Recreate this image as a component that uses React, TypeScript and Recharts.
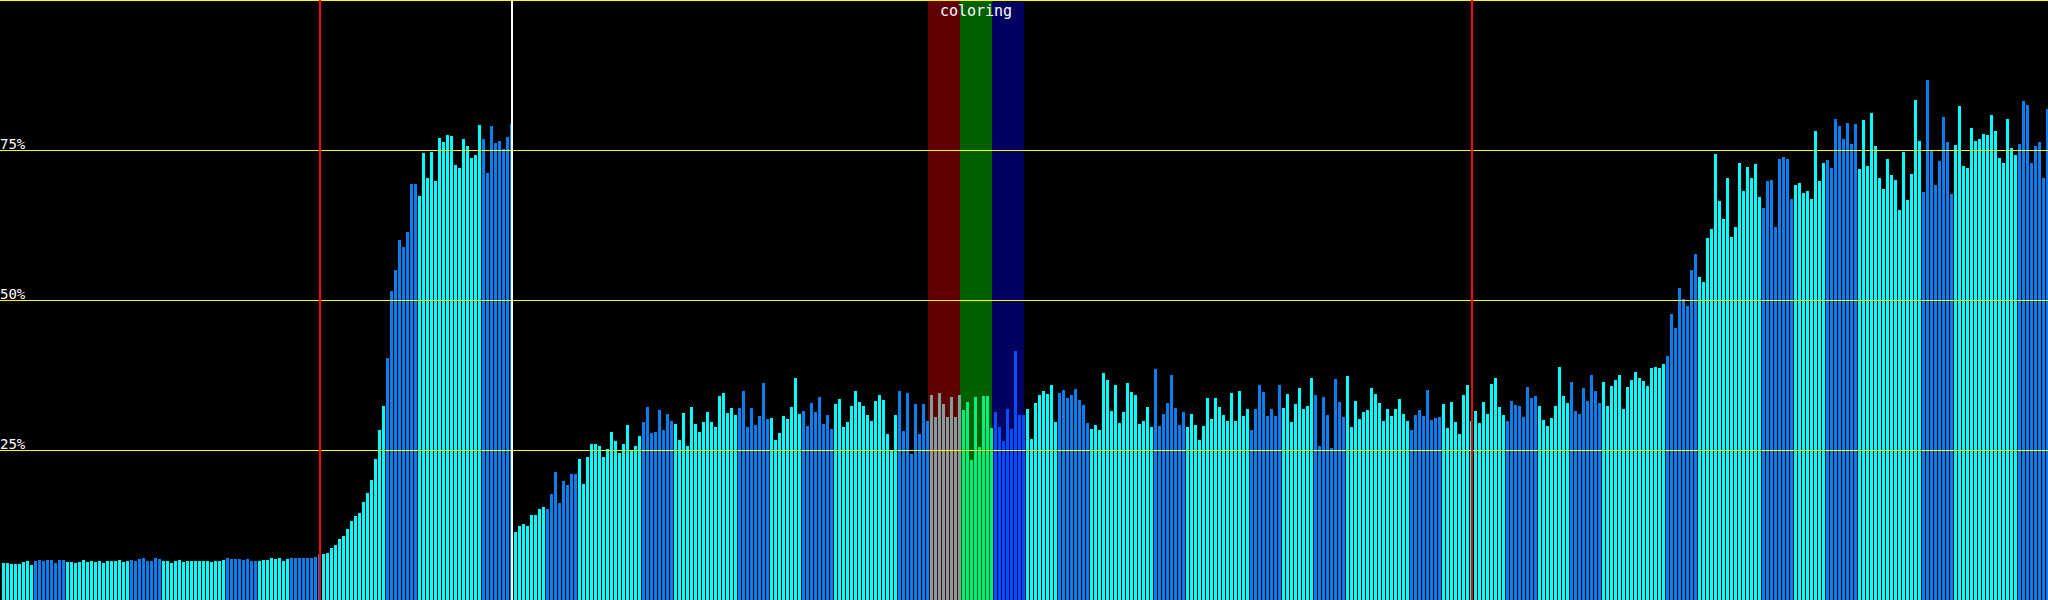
import React from 'react'
import { BarChart, Bar, XAxis, YAxis, ReferenceLine, ReferenceArea, Cell } from 'recharts'

const runA = [
  6.2, 6.2, 6.0, 6.0, 6.0, 6.3, 6.5, 5.8, 6.5, 6.7, 6.5, 6.7, 6.7, 6.2, 6.7, 6.7,
  6.3, 6.3, 6.2, 6.3, 6.7, 6.3, 6.5, 6.3, 6.5, 6.2, 6.5, 6.5, 6.5, 6.7, 6.3, 6.5,
  6.7, 6.5, 6.8, 7.0, 6.5, 6.5, 7.0, 6.8, 6.5, 6.5, 6.2, 6.5, 6.7, 6.3, 6.5, 6.5,
  6.5, 6.5, 6.5, 6.5, 6.3, 6.5, 6.5, 6.7, 7.0, 6.8, 6.8, 6.8, 6.7, 6.8, 6.5, 6.5,
  6.5, 6.7, 6.7, 7.0, 6.8, 7.0, 6.5, 6.8, 7.0, 7.0, 7.0, 7.0, 7.0, 7.0, 7.2, 7.7,
  7.7, 7.8, 8.7, 9.2, 10.2, 10.7, 11.8, 13.2, 14.0, 14.5, 16.3, 17.8, 20.0, 23.5, 28.3, 32.3,
  40.3, 51.5, 55.0, 60.0, 58.8, 61.3, 69.3, 69.3, 67.3, 74.5, 70.3, 74.7, 69.8, 77.0, 76.3, 77.5,
  77.3, 72.5, 72.0, 76.8, 75.7, 73.7, 74.2, 79.2, 76.8, 71.2, 79.0, 76.2, 76.5, 75.2, 77.2, 79.3,
]

const runB = [
  11.3, 12.3, 12.7, 12.3, 14.2, 14.2, 15.2, 15.5, 15.2, 17.7, 21.3, 16.2, 19.8, 19.2, 21.0, 21.0,
  23.5, 19.3, 23.8, 26.0, 26.0, 25.7, 23.8, 25.2, 28.0, 26.5, 24.5, 26.0, 29.2, 25.0, 25.7, 27.3,
  29.7, 32.2, 27.8, 28.0, 31.7, 28.3, 31.0, 29.8, 29.3, 26.7, 31.2, 25.7, 32.2, 29.3, 28.0, 29.7,
  31.3, 29.7, 28.8, 34.0, 34.5, 31.2, 32.0, 30.8, 32.0, 34.8, 28.8, 32.0, 29.2, 30.7, 36.2, 30.2,
  30.3, 26.7, 27.8, 30.7, 30.2, 32.2, 37.0, 31.0, 31.5, 29.0, 32.8, 31.3, 33.8, 29.3, 30.8, 28.5,
  32.7, 33.5, 28.8, 29.7, 32.3, 34.8, 33.0, 32.3, 30.8, 29.8, 33.2, 34.2, 33.3, 27.7, 25.0, 30.8,
  34.8, 28.2, 34.5, 24.3, 32.7, 27.7, 32.7, 29.8, 34.2, 30.5, 34.5, 32.7, 30.5, 33.8, 30.5, 34.2,
  31.7, 33.0, 23.3, 33.8, 25.5, 34.0, 34.0, 28.7, 31.3, 28.8, 26.5, 31.8, 28.5, 41.5, 30.8, 30.8,
]

const runC = [
  31.8, 26.8, 32.8, 34.2, 34.8, 34.3, 35.8, 29.7, 34.5, 35.0, 33.7, 34.2, 35.2, 33.3, 32.5, 29.5,
  28.5, 29.2, 28.3, 37.8, 36.7, 31.5, 35.8, 29.5, 31.3, 36.2, 34.7, 34.2, 29.3, 29.8, 32.2, 28.8,
  38.5, 29.0, 31.0, 32.8, 37.5, 32.0, 29.2, 31.3, 28.8, 31.0, 29.2, 26.7, 29.0, 33.7, 30.2, 33.7,
  32.2, 30.8, 29.8, 34.5, 29.8, 34.8, 30.7, 31.8, 28.3, 31.8, 35.8, 34.7, 30.7, 31.8, 30.7, 35.8,
  32.0, 34.3, 29.7, 32.7, 35.3, 31.8, 32.3, 37.0, 34.2, 25.7, 33.8, 30.8, 25.3, 36.8, 33.0, 30.5,
  37.3, 28.8, 33.2, 30.2, 31.3, 31.7, 35.3, 34.3, 32.8, 29.8, 31.8, 30.7, 31.8, 33.5, 31.0, 29.8,
  28.3, 30.8, 31.7, 30.7, 35.0, 30.0, 30.3, 30.5, 32.7, 28.7, 33.0, 29.7, 27.7, 34.2, 35.8, 29.8,
  31.5, 29.5, 33.0, 31.0, 36.0, 37.0, 32.2, 30.8, 29.8, 33.2, 32.5, 32.3, 30.5, 35.5, 33.7, 34.0,
]

const runD = [
  32.3, 30.0, 29.0, 30.3, 32.3, 38.8, 34.0, 32.8, 36.3, 31.5, 31.0, 35.3, 33.2, 37.5, 34.8, 32.8,
  36.3, 32.3, 35.7, 36.7, 37.5, 31.8, 35.5, 36.7, 38.0, 37.0, 36.5, 35.7, 38.7, 38.8, 38.7, 39.3,
  40.7, 47.7, 45.3, 52.0, 50.2, 49.0, 55.0, 57.7, 53.8, 53.0, 60.3, 61.8, 74.3, 66.5, 63.5, 70.3,
  60.5, 62.2, 72.8, 68.2, 72.2, 70.3, 72.7, 67.2, 65.3, 69.8, 70.0, 62.2, 73.5, 73.8, 73.5, 66.8,
  69.2, 69.5, 67.8, 68.2, 66.8, 78.2, 69.8, 72.8, 73.3, 72.0, 80.2, 79.0, 76.8, 79.5, 76.0, 79.3,
  71.8, 80.0, 72.3, 81.2, 75.7, 70.3, 68.5, 73.5, 70.8, 70.0, 65.0, 74.7, 66.7, 71.0, 83.3, 76.5,
  68.0, 86.7, 75.0, 69.2, 73.2, 80.5, 76.3, 67.7, 75.8, 82.3, 72.3, 72.0, 78.7, 76.5, 76.8, 77.7,
  77.5, 80.8, 78.2, 73.7, 72.8, 80.2, 75.3, 74.2, 76.0, 83.2, 82.5, 72.8, 75.7, 76.3, 70.3, 81.8,
]

// colour of each block of 8 samples inside a run (c = cyan, b = blue)
const blockTones = ['c', 'b', 'c', 'c', 'b', 'c', 'c', 'b', 'c', 'b', 'c', 'c', 'b', 'c', 'c', 'b']

// the three highlighted blocks under the "coloring" label
const bands = [
  { from: 232, to: 239, area: '#600000', bar: '#80a0a0' },
  { from: 240, to: 247, area: '#006000', bar: '#00f080' },
  { from: 248, to: 255, area: '#000060', bar: '#0050ff' },
]

const markers = [
  { at: 80, color: '#ff0000' },
  { at: 128, color: '#ffffff' },
  { at: 368, color: '#ff0000' },
]

const levels = [25, 50, 75]

const values = [...runA, ...runB, ...runC, ...runD]

const toneColor: Record<string, string> = { c: '#00ffff', b: '#0a80f0' }

const rows = values.map((v, i) => {
  const band = bands.find((b) => i >= b.from && i <= b.to)
  const tone = blockTones[Math.floor(i / 8) % blockTones.length]
  return { idx: i, value: v, fill: band ? band.bar : toneColor[tone] }
})

const FONT = '"DejaVu Sans Mono", "Liberation Mono", monospace'

const BarShape = (p: any) => {
  const top = Math.round(p.y)
  const bottom = Math.round(p.y + p.height)
  return <rect x={Math.floor(p.x) + 1} y={top} width={3} height={bottom - top} fill={p.fill} />
}

const levelLabel = (l: number) => (p: any) => {
  const vb = p.viewBox || {}
  return (
    <text x={0} y={vb.y - 1} fill="#ffffff" fontFamily={FONT} fontSize={14} textAnchor="start">
      {`${l}%`}
    </text>
  )
}

const ColoringLabel = (p: any) => {
  const vb = p.viewBox || {}
  return (
    <text x={vb.x + vb.width / 2} y={16} fill="#ffffff" fontFamily={FONT} fontSize={15} textAnchor="middle">
      coloring
    </text>
  )
}

export default function App() {
  return (
    <div
      style={{
        position: 'fixed',
        left: 0,
        top: 0,
        width: 2048,
        height: 600,
        background: '#000000',
        shapeRendering: 'crispEdges',
      }}
    >
      <BarChart
        width={2048}
        height={600}
        data={rows}
        margin={{ top: 0, right: 0, bottom: 0, left: 0 }}
        barCategoryGap={0}
        barGap={0}
      >
        <XAxis dataKey="idx" hide />
        <YAxis domain={[0, 100]} hide />
        {bands.map((b, k) => (
          <ReferenceArea key={k} x1={b.from} x2={b.to} fill={b.area} fillOpacity={1} stroke="none" />
        ))}
        <ReferenceArea
          x1={bands[0].from}
          x2={bands[bands.length - 1].to}
          fill="none"
          fillOpacity={0}
          stroke="none"
          label={<ColoringLabel />}
        />
        <Bar dataKey="value" barSize={3} isAnimationActive={false} shape={<BarShape />}>
          {rows.map((r) => (
            <Cell key={r.idx} fill={r.fill} />
          ))}
        </Bar>
        {levels.map((l) => (
          <ReferenceLine key={l} y={l} stroke="#ffff00" strokeWidth={1} label={levelLabel(l)} />
        ))}
        <ReferenceLine y={100} stroke="#ffff00" strokeWidth={2} />
        {markers.map((m) => (
          <ReferenceLine key={m.at} x={m.at} position="start" stroke={m.color} strokeWidth={2} />
        ))}
      </BarChart>
    </div>
  )
}
